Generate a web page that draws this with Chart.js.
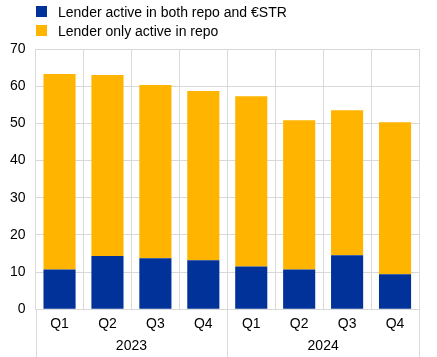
<!DOCTYPE html>
<html><head><meta charset="utf-8">
<script src="https://cdn.jsdelivr.net/npm/chart.js@4"></script>
<style>
body{margin:0;background:#fff;font-family:"Liberation Sans",Arial,sans-serif}
#wrap{position:relative;width:437px;height:357px;overflow:hidden}
#legend{position:absolute;left:36px;top:2px;font-size:14px;color:#000}
.item{display:flex;align-items:center;height:19px;white-space:pre}
.sw{width:11px;height:11px;margin-right:11px}
</style></head>
<body><div id="wrap"><canvas id="c" width="437" height="357"></canvas>
<div id="legend"></div></div>
<script>
const quarters = ["Q1","Q2","Q3","Q4","Q1","Q2","Q3","Q4"];
const years = ["2023","2024"];
const seriesNames = ["Lender active in both repo and €STR","Lender only active in repo"];
const bothActive = [10.7,14.3,13.7,13.2,11.5,10.7,14.5,9.4];
const repoOnly = [52.6,48.7,46.6,45.5,45.8,40.1,39.0,40.9];
const colors = ["#003299","#FFB400"];

const legend = document.getElementById('legend');
seriesNames.forEach((n,i)=>{
  const d=document.createElement('div');d.className='item';
  const s=document.createElement('span');s.className='sw';s.style.background=colors[i];
  const t=document.createElement('span');t.textContent=n;
  d.appendChild(s);d.appendChild(t);legend.appendChild(d);
});

const gridColor = '#d9d9d9';
const FONT = '"Liberation Sans", Arial, sans-serif';
const yearPlugin = {
  id:'years',
  afterDraw(chart){
    const {ctx, chartArea, scales:{x}} = chart;
    const step = x.getPixelForValue(1)-x.getPixelForValue(0);
    ctx.save();
    ctx.strokeStyle=gridColor;ctx.lineWidth=1;
    for(let b=0;b<=quarters.length;b+=4){
      const px=Math.round(x.getPixelForValue(b)-step/2)+0.5;
      ctx.beginPath();ctx.moveTo(px,chartArea.bottom);ctx.lineTo(px,chart.height);ctx.stroke();
    }
    ctx.fillStyle='#000';ctx.font='14px '+FONT;
    ctx.textAlign='center';ctx.textBaseline='middle';
    years.forEach((y,i)=>{
      const cx=(x.getPixelForValue(i*4)+x.getPixelForValue(i*4+3))/2;
      ctx.fillText(y,cx,chartArea.bottom+37);
    });
    ctx.restore();
  }
};

new Chart(document.getElementById('c'),{
  type:'bar',
  data:{labels:quarters,datasets:[
    {label:seriesNames[0],data:bothActive,backgroundColor:colors[0],categoryPercentage:1,barPercentage:0.67},
    {label:seriesNames[1],data:repoOnly,backgroundColor:colors[1],categoryPercentage:1,barPercentage:0.67}
  ]},
  options:{
    responsive:false,animation:false,
    layout:{padding:{top:49,bottom:17,left:0,right:18}},
    plugins:{legend:{display:false},tooltip:{enabled:false}},
    scales:{
      x:{stacked:true,grid:{offset:true,color:gridColor,drawTicks:false},border:{color:gridColor},
         ticks:{padding:7,color:'#000',font:{family:FONT,size:14}}},
      y:{stacked:true,min:0,max:70,grid:{color:gridColor,drawTicks:false},border:{display:false},
         ticks:{stepSize:10,padding:10,color:'#000',font:{family:FONT,size:14}}}
    }
  },
  plugins:[yearPlugin]
});
</script></body></html>
